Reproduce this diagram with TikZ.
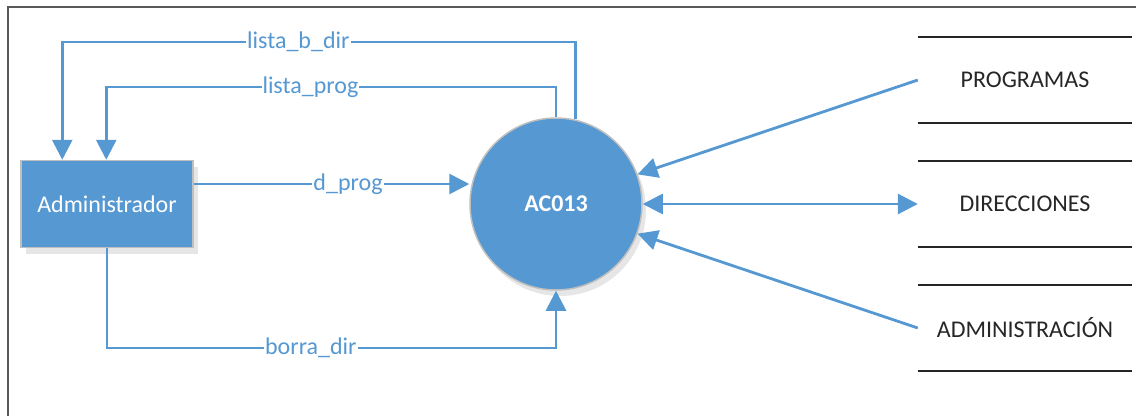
\documentclass[tikz,border=0pt]{standalone}
\usepackage{fontspec}
\setmainfont{Carlito}
\usepackage{tikz}
\usetikzlibrary{arrows.meta,shadows}
\definecolor{dfdblue}{HTML}{5598D2}
\definecolor{rimgray}{HTML}{BFBFBF}
\definecolor{framegray}{HTML}{595959}
\definecolor{storeink}{HTML}{262626}

\begin{document}
\begin{tikzpicture}[x=1pt,y=-1pt,
	font=\fontsize{24}{28}\selectfont,
	entity/.style={rectangle, fill=dfdblue, draw=rimgray, line width=1.5pt, text=white,
		minimum width=172pt, minimum height=87pt,
		drop shadow={shadow xshift=5pt, shadow yshift=-6pt, fill=gray, opacity=0.2}},
	process/.style={circle, fill=dfdblue, draw=rimgray, line width=1.5pt, text=white,
		minimum size=172pt, font=\fontsize{24}{28}\selectfont\bfseries,
		drop shadow={shadow xshift=4pt, shadow yshift=-6pt, fill=gray, opacity=0.2}},
	store/.style={minimum width=214pt, minimum height=86pt, text=storeink},
	flow/.style={dfdblue, line width=2.8pt, -{Triangle[length=20pt,width=20pt]}},
	lbl/.style={fill=white, text=dfdblue, inner sep=1pt}]
	\useasboundingbox (0,0) rectangle (1136,416);
	%frame
	\draw[framegray, line width=1.2pt] (8,416) -- (8,7) -- (1136,7);
	%%%nodes
	\node[entity] at (107,204) (adm){Administrador};
	\node[process] at (556,204) (ac){AC013};
	%stores
	\node[store] at (1025,80) (prog){PROGRAMAS};
	\node[store] at (1025,204) (dir){DIRECCIONES};
	\node[store] at (1025,328) (admin){ADMINISTRACIÓN};
	\foreach \s in {prog,dir,admin}{
		\draw[storeink, line width=1.5pt] (\s.north west) -- (\s.north east);
		\draw[storeink, line width=1.5pt] (\s.south west) -- (\s.south east);
	}
	%%%links
	%back to Administrador
	\draw[flow] (ac.77) -- (ac.77 |- 0,42) -| ([xshift=42pt]adm.north west)
		node[lbl, pos=0.27] {lista\_b\_dir};
	\draw[flow] (ac.north) -- (ac.north |- 0,87) -| ([xshift=86pt]adm.north west)
		node[lbl, pos=0.273] {lista\_prog};
	%into AC013
	\coordinate (dp) at ([yshift=20pt]adm.east);
	\draw[flow] (dp) -- (dp -| ac.west) node[lbl, pos=0.56] {d\_prog};
	\draw[flow] (adm.south) -- (adm.south |- 0,348) -| (ac.south)
		node[lbl, pos=0.227] {borra\_dir};
	%stores
	\draw[flow] (prog.west) -- (ac.20);
	\draw[flow, {Triangle[length=20pt,width=20pt]}-{Triangle[length=20pt,width=20pt]}] (ac.east) -- (dir.west);
	\draw[flow] (admin.west) -- (ac.-20);
\end{tikzpicture}
\end{document}
